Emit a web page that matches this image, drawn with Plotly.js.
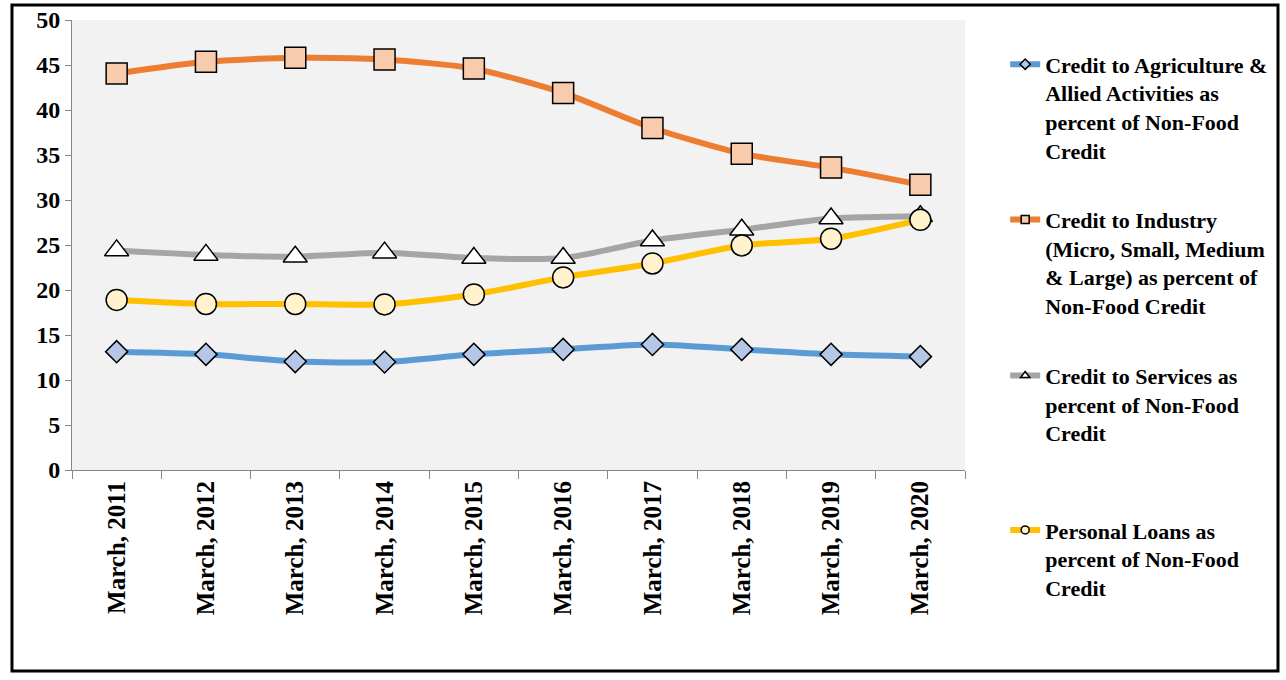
<!DOCTYPE html>
<html>
<head>
<meta charset="utf-8">
<script src="https://cdn.plot.ly/plotly-3.0.1.min.js"></script>
<style>html,body{margin:0;padding:0;background:#fff;}#chart{width:1286px;height:680px;}</style>
</head>
<body>
<div id="chart"></div>
<script>
const categories = ["March, 2011","March, 2012","March, 2013","March, 2014","March, 2015","March, 2016","March, 2017","March, 2018","March, 2019","March, 2020"];
const agriculture = [13.15, 12.85, 12.05, 12.0, 12.85, 13.4, 13.95, 13.4, 12.85, 12.6];
const industry = [44.05, 45.35, 45.8, 45.6, 44.6, 41.9, 38.0, 35.15, 33.6, 31.7];
const services = [24.4, 23.9, 23.7, 24.15, 23.55, 23.55, 25.5, 26.7, 27.95, 28.2];
const personal = [18.9, 18.45, 18.45, 18.4, 19.5, 21.4, 22.95, 24.95, 25.7, 27.8];
const seriesNames = [
  "Credit to Agriculture &<br>Allied Activities as<br>percent of Non-Food<br>Credit",
  "Credit to Industry<br>(Micro, Small, Medium<br>& Large) as percent of<br>Non-Food Credit",
  "Credit to Services as<br>percent of Non-Food<br>Credit",
  "Personal Loans as<br>percent of Non-Food<br>Credit"
];
const yTicks = [0,5,10,15,20,25,30,35,40,45,50];

const lineColors = ["#5b9bd5", "#ed7d31", "#a5a5a5", "#ffc000"];
const fillColors = ["#b4c7e7", "#f8cbad", "#ffffff", "#fff2cc"];
const symbols = ["diamond", "square", "triangle-up", "circle"];
const sizes = [17, 21, 21, 21];
const values = [agriculture, industry, services, personal];
const legendIds = ["legend", "legend2", "legend3", "legend4"];

const traces = [];
values.forEach((v, i) => {
  traces.push({
    type: "scatter", mode: "lines+markers", x: categories, y: v,
    name: seriesNames[i], showlegend: false,
    line: {color: lineColors[i], width: 6, shape: "spline", smoothing: 0.7},
    marker: {symbol: symbols[i], size: sizes[i], color: fillColors[i], line: {color: "#000", width: 1.5}},
    hoverinfo: "x+y"
  });
});
values.forEach((v, i) => {
  traces.push({
    type: "scatter", mode: "lines+markers", x: [null], y: [null],
    name: seriesNames[i], showlegend: true, legend: legendIds[i],
    line: {color: lineColors[i], width: 6},
    marker: {symbol: symbols[i], size: 8, color: fillColors[i], line: {color: "#000", width: 1.5}}
  });
});

const legendFont = {family: "Liberation Serif, Times New Roman, serif", size: 22, color: "#000", weight: "bold"};
function leg(y) {
  return {x: 1.045, xanchor: "left", y: y, yanchor: "top", valign: "top", font: legendFont,
          bgcolor: "rgba(0,0,0,0)", borderwidth: 0, itemwidth: 30};
}

const layout = {
  width: 1286, height: 680,
  margin: {l: 72, r: 321, t: 20, b: 210},
  paper_bgcolor: "#ffffff",
  plot_bgcolor: "#f2f2f2",
  font: {family: "Liberation Serif, Times New Roman, serif", color: "#000"},
  xaxis: {
    type: "category", range: [-0.5, 9.5], tickson: "boundaries",
    ticks: "outside", ticklen: 8, tickcolor: "#868686", tickwidth: 1,
    showline: true, linecolor: "#868686", linewidth: 1, showgrid: false, zeroline: false,
    tickangle: -90, tickfont: {family: "Liberation Serif, Times New Roman, serif", size: 25, color: "#000", weight: "bold"}
  },
  yaxis: {
    range: [0, 50], tickvals: yTicks, ticktext: yTicks.map(String),
    ticks: "outside", ticklen: 6, tickcolor: "#868686", tickwidth: 1,
    showline: true, linecolor: "#868686", linewidth: 1, showgrid: false, zeroline: false,
    tickfont: {family: "Liberation Serif, Times New Roman, serif", size: 24, color: "#000", weight: "bold"}
  },
  legend: leg(0.948),
  legend2: leg(0.603),
  legend3: leg(0.256),
  legend4: leg(-0.087),
  shapes: [{
    type: "rect", xref: "paper", yref: "paper",
    x0: -0.0672, x1: 1.3505, y0: -0.4467, y1: 1.0333,
    line: {color: "#000", width: 3}, fillcolor: "rgba(0,0,0,0)"
  }]
};

Plotly.newPlot("chart", traces, layout, {displayModeBar: false, responsive: false});
</script>
</body>
</html>
